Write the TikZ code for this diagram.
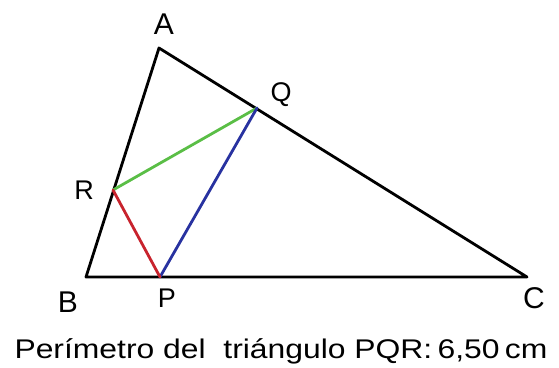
\documentclass[tikz,border=0pt]{standalone}
\usepackage{fontspec}
\setmainfont{Liberation Sans}
\definecolor{segG}{RGB}{90,190,70}
\definecolor{segR}{RGB}{200,35,45}
\definecolor{segB}{RGB}{40,50,160}
\begin{document}
\begin{tikzpicture}[x=1pt,y=-1pt,
  side/.style={line width=2.8pt,line cap=round,line join=round},
  big/.style={font=\fontsize{30}{32}\selectfont,inner sep=0pt,anchor=base},
  small/.style={font=\fontsize{27}{29}\selectfont,inner sep=0pt,anchor=base}]
\useasboundingbox (0,0) rectangle (559,367);
\coordinate (A) at (159,48);
\coordinate (B) at (86,277);
\coordinate (C) at (527,277);
\coordinate (Q) at (257,108);
\coordinate (R) at (113,190);
\coordinate (P) at (160,277);
\draw[side] (A) -- (B) -- (C) -- cycle;
\draw[side,segG] (R) -- (Q);
\draw[side,segB] (P) -- (Q);
\draw[side,segR] (R) -- (P);
\node[big] (lA) at (164,34) {A};
\node[big] (lB) at (68,312) {B};
\node[big] (lC) at (534,308) {C};
\node[small] (lQ) at (281,101) {Q};
\node[small] (lR) at (84,199) {R};
\node[small] (lP) at (167,307) {P};
\node[font=\fontsize{27}{29}\selectfont,inner sep=0pt,anchor=base,xscale=1.18] (cap) at (281,358) {Perímetro del\ \ triángulo PQR:\,6,50\,cm};
\end{tikzpicture}
\end{document}
